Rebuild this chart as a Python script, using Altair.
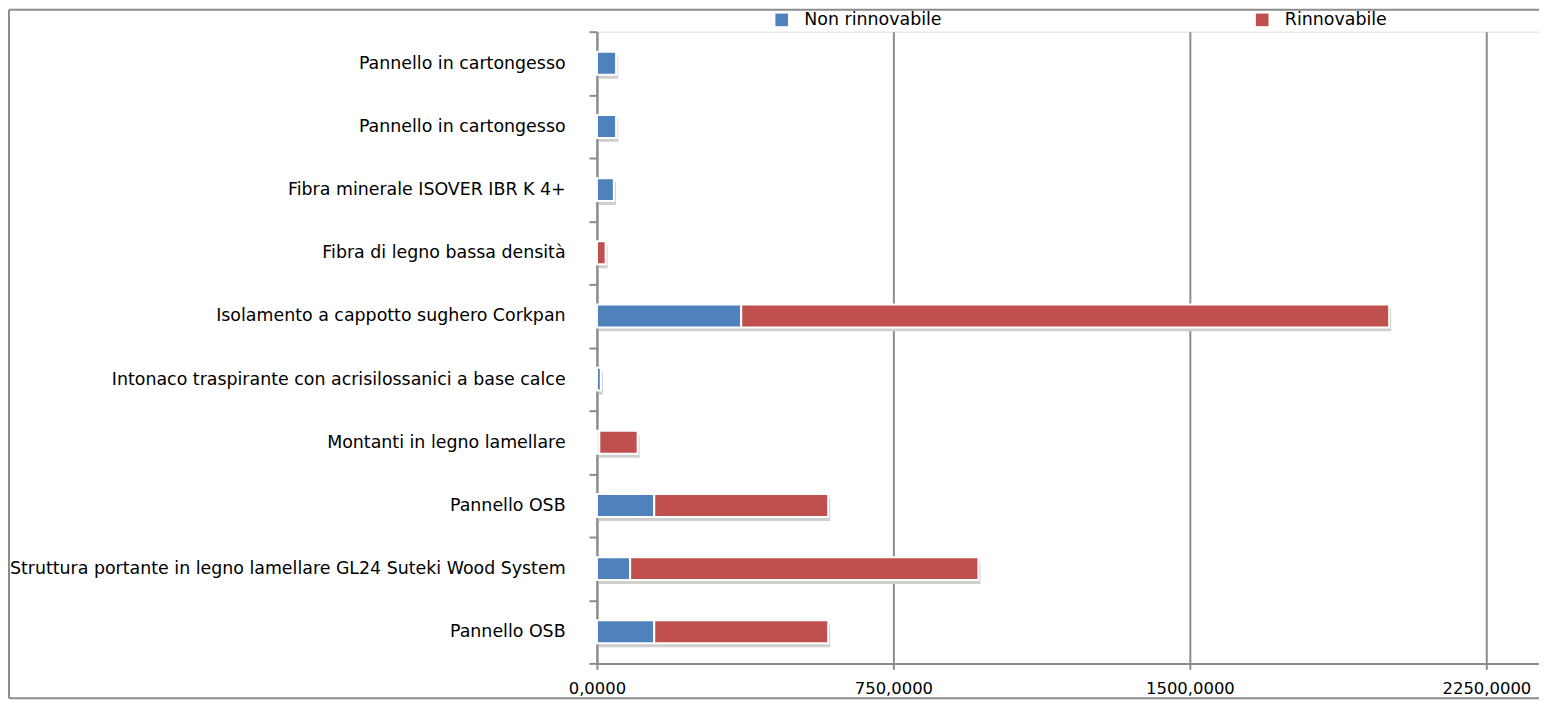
import json
import altair as alt
import pandas as pd

# ---- data (top to bottom) ----
names = [
    "Pannello in cartongesso",
    "Pannello in cartongesso",
    "Fibra minerale ISOVER IBR K 4+",
    "Fibra di legno bassa densità",
    "Isolamento a cappotto sughero Corkpan",
    "Intonaco traspirante con acrisilossanici a base calce",
    "Montanti in legno lamellare",
    "Pannello OSB",
    "Struttura portante in legno lamellare GL24 Suteki Wood System",
    "Pannello OSB",
]
non_rinnovabile = [49, 49, 43, 0, 365, 10, 6, 145, 84, 145]
rinnovabile = [0, 0, 0, 22, 1639, 0, 97, 440, 881, 440]
series_names = ["Non rinnovabile", "Rinnovabile"]
series_colors = ["#4F81BD", "#C0504D"]
x_ticks = [0, 750, 1500, 2250]

rows = []
for i, (n, a, b) in enumerate(zip(names, non_rinnovabile, rinnovabile)):
    rows.append({"id": i, "nome": n, "serie": series_names[0], "ordine": 0, "valore": a})
    rows.append({"id": i, "nome": n, "serie": series_names[1], "ordine": 1, "valore": b})
df = pd.DataFrame(rows)

FONT = "DejaVu Sans"
GRAY = "#8c8c8c"
label_expr = json.dumps(names, ensure_ascii=False) + "[datum.value]"

y_enc = alt.Y(
    "id:O",
    sort=list(range(len(names))),
    scale=alt.Scale(paddingInner=0, paddingOuter=0),
    axis=alt.Axis(
        title=None,
        labelExpr=label_expr,
        labelFont=FONT,
        labelFontSize=17.5,
        labelColor="#000000",
        labelPadding=24,
        labelLimit=900,
        tickSize=8,
        tickColor=GRAY,
        tickWidth=2,
        tickBand="extent",
        domainColor=GRAY,
        domainWidth=2,
        grid=False,
    ),
)
x_enc = alt.X(
    "valore:Q",
    stack="zero",
    scale=alt.Scale(domain=[0, 2383], nice=False),
    axis=alt.Axis(
        title=None,
        values=x_ticks,
        labelExpr="replace(format(datum.value, '.4f'), '.', ',')",
        labelFont=FONT,
        labelFontSize=16.5,
        labelColor="#000000",
        labelPadding=11,
        labelFlush=False,
        tickSize=6,
        tickColor=GRAY,
        tickWidth=2,
        grid=True,
        gridColor=GRAY,
        gridWidth=2,
        domainColor=GRAY,
        domainWidth=2,
    ),
)

base = alt.Chart(df)

shadow = base.mark_bar(
    height=23, color="#cfcfcf", xOffset=2, x2Offset=4, yOffset=4
).encode(x=x_enc, y=y_enc, order=alt.Order("ordine:Q"))

bars = base.mark_bar(height=23, stroke="white", strokeWidth=2).encode(
    x=x_enc,
    y=y_enc,
    order=alt.Order("ordine:Q"),
    color=alt.Color(
        "serie:N",
        scale=alt.Scale(domain=series_names, range=series_colors),
        legend=alt.Legend(
            title=None,
            orient="none",
            legendX=177,
            legendY=-21,
            direction="horizontal",
            symbolType="square",
            symbolSize=160,
            symbolStrokeWidth=0,
            labelFont=FONT,
            labelFontSize=17.5,
            labelColor="#000000",
            labelOffset=14,
            columnPadding=313,
            padding=0,
        ),
    ),
)

# outer chart frame (open on the right, as in the reference)
frame_src = alt.Chart(pd.DataFrame({"f": [0]}))
frame_top = frame_src.mark_rule(stroke=GRAY, strokeWidth=2).encode(
    x=alt.value(-591), x2=alt.value(1200), y=alt.value(-22)
)
frame_bottom = frame_src.mark_rule(stroke=GRAY, strokeWidth=2).encode(
    x=alt.value(-591), x2=alt.value(1200), y=alt.value(670)
)
frame_left = frame_src.mark_rule(stroke=GRAY, strokeWidth=2).encode(
    x=alt.value(-591), y=alt.value(-22), y2=alt.value(670)
)

chart = (
    alt.layer(frame_top, frame_bottom, frame_left, shadow, bars)
    .properties(
        width=947,
        height=635,
        autosize="none",
        padding={"left": 592, "top": 22, "right": 0, "bottom": 36},
    )
    .configure_view(stroke=None)
    .configure(background="white")
)

chart.save("out.html", embed_options={"renderer": "svg", "actions": False})
